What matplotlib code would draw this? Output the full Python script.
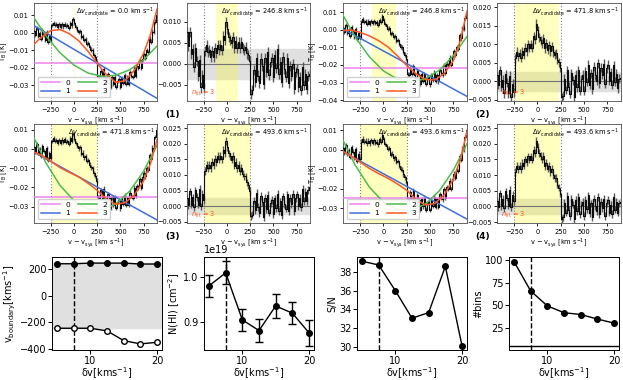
import numpy as np
import matplotlib
matplotlib.use('Agg')
import matplotlib.pyplot as plt
from matplotlib.ticker import MultipleLocator

# ---------------- data ----------------
velocity = np.arange(-430, 891, 15)  # channel grid [km/s]
t_b = [0.001, -0.0015, 0.0025, -0.002, 0.0, -0.0035, 0.0015, -0.001, -0.004, 0.0005,
       -0.0055, -0.002, -0.0045,
       0.0043, 0.0058, 0.0043, 0.0048, 0.0033, 0.0048, 0.0034, 0.0050, 0.0036, 0.0051,
       0.0037, 0.0043, 0.0029, 0.0056, 0.0042, 0.0078, 0.0055, 0.0031, 0.0018, 0.0004,
       0.0010, -0.0025, -0.0019, -0.0043, -0.0038, -0.0062, -0.0057, -0.0081, -0.0096,
       -0.0101, -0.0126, -0.0141, -0.0165,
       -0.0252, -0.0254, -0.0216, -0.0253, -0.0206, -0.0258, -0.0285, -0.0234, -0.0258,
       -0.0308, -0.0252, -0.0291, -0.0250, -0.0308, -0.0277, -0.0266, -0.0310, -0.0258,
       -0.0287, -0.0241, -0.0292, -0.0255, -0.0293, -0.0227, -0.0245, -0.0254, -0.0202,
       -0.0245, -0.0192, -0.0200, -0.0158, -0.0201, -0.0148, -0.0123, -0.0143, -0.0098,
       -0.0108, -0.0033, -0.0050, 0.0007, 0.0003, 0.0064, 0.0101]
t_b_err = 0.0012

fit_dv = [0.0, 246.8, 471.8, 493.6]        # mask used for the baseline fit panels
res_dv = [246.8, 471.8, 493.6, 493.6]      # candidate found in the residual panels
n_fit = 3
v_window = 250
panel_tags = ['(1)', '(2)', '(3)', '(4)']

# baseline polynomials (order 0, 1, 2, 3)
fit0_level = [-0.0172, -0.0217, -0.0248, -0.0246]
fit1_v = [-431, 895]
fit1_vals = [[0.0040, -0.0375], [0.0004, -0.0378], [-0.0016, -0.0370], [-0.0010, -0.0356]]
fit2_v = [-431, -300, -150, 0, 150, 300, 450, 600, 750, 895]
fit2_vals = [
    [0.0085, -0.0019, -0.0115, -0.0185, -0.0230, -0.0249, -0.0243, -0.0212, -0.0155, -0.0076],
    [0.0082, -0.0042, -0.0153, -0.0233, -0.0280, -0.0295, -0.0278, -0.0229, -0.0147, -0.0038],
    [0.0058, -0.0074, -0.0190, -0.0269, -0.0312, -0.0318, -0.0287, -0.0220, -0.0116, 0.0019],
    [0.0049, -0.0079, -0.0191, -0.0268, -0.0308, -0.0311, -0.0279, -0.0210, -0.0104, 0.0032],
]
fit3_v = [-431, -350, -250, -150, -50, 50, 150, 250, 350, 450, 550, 650, 750, 825, 895]
fit3_vals = [
    [-0.0066, -0.0025, 0.0012, 0.0018, -0.0005, -0.0045, -0.0105, -0.0175, -0.0240,
     -0.0283, -0.0275, -0.0215, -0.0118, -0.0010, 0.0135],
    [-0.0006, -0.0002, -0.0015, -0.0035, -0.0062, -0.0098, -0.0148, -0.0203, -0.0250,
     -0.0282, -0.0285, -0.0250, -0.0175, -0.0060, 0.0105],
    [-0.0016, -0.0032, -0.0064, -0.0097, -0.0122, -0.0145, -0.0178, -0.0215, -0.0262,
     -0.0288, -0.0280, -0.0240, -0.0167, -0.0075, 0.0048],
    [-0.0008, -0.0030, -0.0062, -0.0095, -0.0122, -0.0146, -0.0175, -0.0207, -0.0255,
     -0.0283, -0.0276, -0.0232, -0.0150, -0.0050, 0.0096],
]

dv_bin = [5, 7.5, 10, 12.5, 15, 17.5, 20]
v_upper = [240, 240, 245, 245, 245, 238, 238]
v_lower = [-246, -246, -246, -266, -339, -364, -352]
nhi = [0.981e19, 1.010e19, 0.905e19, 0.881e19, 0.936e19, 0.920e19, 0.876e19]
nhi_err = [0.025e19, 0.026e19, 0.024e19, 0.026e19, 0.027e19, 0.024e19, 0.029e19]
snr = [39.15, 38.75, 36.0, 33.05, 33.65, 38.6, 30.1]
nbins = [98.5, 66, 49.5, 42, 40, 35, 30.5]
dv_chosen = 7.5
nbins_min = 5
dv_final = 493.6

# ---------------- style ----------------
W, H = 623, 380
fig = plt.figure(figsize=(W / 100, H / 100), dpi=100)
fit_colors = ['violet', '#3f6fdc', '#4cbd4c', '#ff5722']
small = 4.8

def px_axes(x0, y0, x1, y1):
    return fig.add_axes([x0 / W, 1 - y1 / H, (x1 - x0) / W, (y1 - y0) / H])

def style_top(ax):
    ax.tick_params(labelsize=small, length=2.5, width=0.6, pad=1.5)
    for s in ax.spines.values():
        s.set_linewidth(0.6)
        s.set_color('0.3')
    ax.set_xlim(-431, 895)
    ax.set_xticks([-250, 0, 250, 500, 750])
    ax.set_xlabel(r'v $-$ v$_{\rm sys}$ [km s$^{-1}$]', fontsize=small, labelpad=1)

def draw_spec(ax, y):
    ax.errorbar(velocity, y, yerr=t_b_err, fmt='none', ecolor='0.35',
                elinewidth=1.0, zorder=3)
    ax.step(velocity, y, where='mid', color='0.05', lw=0.8, zorder=4)

def dv_text(ax, dv):
    ax.text(0.98, 0.975, r'$\Delta v_{\rm candidate}$ = %.1f km s$^{-1}$' % dv,
            transform=ax.transAxes, ha='right', va='top', fontsize=small, zorder=6)

vel = np.array(velocity, dtype=float)
tb = np.array(t_b)

col_x = [(34, 157), (187, 310), (343, 467), (497, 621)]
row_y = [(3, 101), (124, 223)]
fit_ylims = [(-0.039, 0.017), (-0.0404, 0.0151), (-0.0386, 0.0131), (-0.0376, 0.0133)]
res_ylims = [(-0.0088, 0.0144), (-0.0054, 0.0211), (-0.0054, 0.0263), (-0.0053, 0.0263)]

for k in range(4):
    r = k // 2
    cf = col_x[(k % 2) * 2]
    cr = col_x[(k % 2) * 2 + 1]
    y0, y1 = row_y[r]

    # ---- fit panel ----
    ax = px_axes(cf[0], y0, cf[1], y1)
    dv = fit_dv[k]
    ax.axvspan(-dv / 2, dv / 2, color='yellow', alpha=0.25, lw=0.6, zorder=0)
    for vv in (-v_window, v_window):
        ax.axvline(vv, color='0.5', ls=':', lw=0.8, zorder=1)
    draw_spec(ax, tb)
    ax.axhline(fit0_level[k], color=fit_colors[0], lw=1.1, zorder=5, label='0')
    ax.plot(fit1_v, fit1_vals[k], color=fit_colors[1], lw=1.1, zorder=5, label='1')
    ax.plot(fit2_v, fit2_vals[k], color=fit_colors[2], lw=1.1, zorder=5, label='2')
    ax.plot(fit3_v, fit3_vals[k], color=fit_colors[3], lw=1.1, zorder=5, label='3')
    style_top(ax)
    ax.set_ylim(*fit_ylims[k])
    ax.yaxis.set_major_locator(MultipleLocator(0.01))
    ax.set_ylabel(r'T$_{\rm B}$ [K]', fontsize=small)
    ax.yaxis.set_label_coords(-0.2, 0.5)
    dv_text(ax, dv)
    ax.legend(loc='lower left', ncol=2, fontsize=small + 0.5, handlelength=2.6,
              columnspacing=1.0, borderpad=0.4, labelspacing=0.3, handletextpad=0.8,
              framealpha=0.9)

    # ---- residual panel: spectrum minus the cubic baseline of the fit panel ----
    ax = px_axes(cr[0], y0, cr[1], y1)
    dvn = res_dv[k]
    resid = tb - np.interp(vel, fit3_v, fit3_vals[k])
    outside = np.abs(vel) > dvn / 2
    rms = np.std(resid[outside])
    ax.axhspan(-rms, rms, color='0.88', zorder=0)
    ax.axvspan(-dvn / 2, dvn / 2, color='yellow', alpha=0.25, lw=0, zorder=0.5)
    for vv in (-v_window, v_window):
        ax.axvline(vv, color='0.5', ls=':', lw=0.8, zorder=1)
    ax.axhline(0, color='0.45', lw=0.8, zorder=2)
    draw_spec(ax, resid)
    style_top(ax)
    ax.set_ylim(*res_ylims[k])
    ax.yaxis.set_major_locator(MultipleLocator(0.005))
    dv_text(ax, dvn)
    ax.text(0.03, 0.03, r'$n_{\rm fit}$ = %d' % n_fit, transform=ax.transAxes,
            color=fit_colors[3], fontsize=small, ha='left', va='bottom', zorder=6)
    fig.text((cr[0] - 14) / W, 1 - (y1 + 13) / H, panel_tags[k], fontsize=6.5,
             fontweight='bold', ha='center', va='center')

# ---------------- bottom summary row ----------------
big = 7
bx = [(52, 162), (204, 314), (357, 467), (509, 619)]
by = (257, 350)
axes_b = [px_axes(x0, by[0], x1, by[1]) for x0, x1 in bx]

def style_bottom(ax):
    ax.tick_params(labelsize=big, length=3, width=0.7, pad=1)
    for s in ax.spines.values():
        s.set_linewidth(0.7)
    ax.set_xticks([10, 20])
    ax.set_xlabel(r'δv[kms$^{-1}$]', fontsize=big, labelpad=0)
    ax.axvline(dv_chosen, color='k', ls='--', lw=1.0, zorder=1)

ax = axes_b[0]
ax.axhspan(-dv_final / 2, dv_final / 2, color='0.88', zorder=0)
ax.plot(dv_bin, v_upper, 'o-', color='k', ms=4, lw=1.0, zorder=3)
ax.plot(dv_bin, v_lower, 'o-', color='k', mfc='white', ms=4, lw=1.0, zorder=3)
ax.set_ylim(-410, 291)
ax.set_yticks([-400, -200, 0, 200])
ax.set_ylabel(r'v$_{\rm boundary}$[kms$^{-1}$]', fontsize=big, labelpad=1)
style_bottom(ax)

ax = axes_b[1]
ax.errorbar(dv_bin, nhi, yerr=nhi_err, fmt='o-', color='k', ms=4, lw=1.0,
            capsize=3, elinewidth=1.0, zorder=3)
ax.set_ylabel(r'N(HI) [cm$^{-2}$]', fontsize=big, labelpad=1)
ax.yaxis.get_offset_text().set_fontsize(big)
style_bottom(ax)

ax = axes_b[2]
ax.plot(dv_bin, snr, 'o-', color='k', ms=4, lw=1.0, zorder=3)
ax.set_ylabel('S/N', fontsize=big, labelpad=1)
ax.set_yticks([30, 32, 34, 36, 38])
style_bottom(ax)

ax = axes_b[3]
ax.plot(dv_bin, nbins, 'o-', color='k', ms=4, lw=1.0, zorder=3)
ax.axhline(nbins_min, color='k', lw=1.0)
ax.set_ylim(0.8, 103.5)
ax.set_yticks([25, 50, 75, 100])
ax.set_ylabel('#bins', fontsize=big, labelpad=1)
style_bottom(ax)

fig.savefig('out.png', dpi=100)
